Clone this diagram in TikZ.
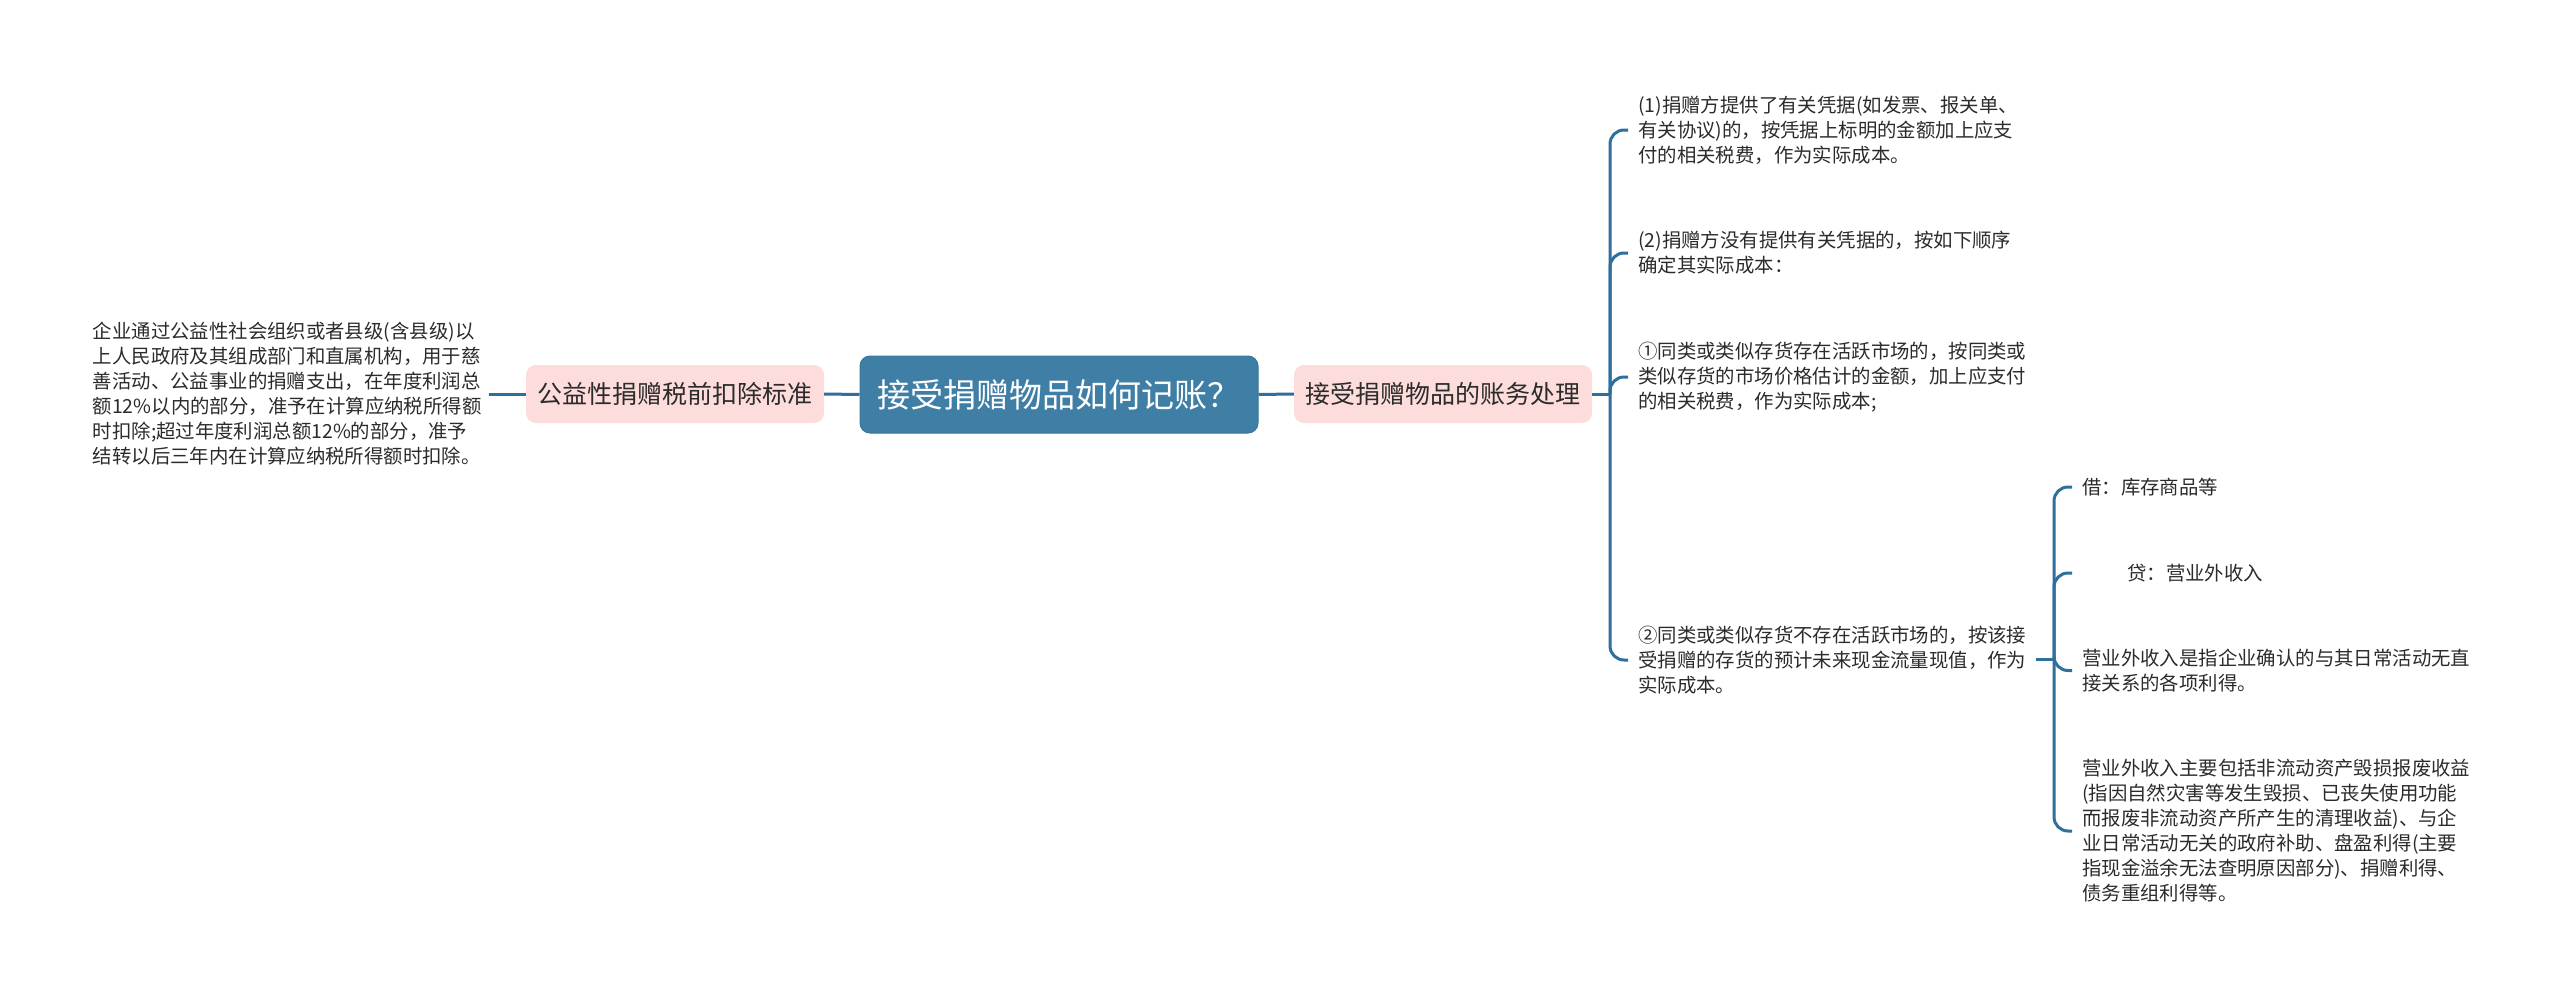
\documentclass[tikz,border=0pt]{standalone}
\usepackage{fontspec}
\setmainfont{Noto Sans CJK SC}
\definecolor{linkblue}{HTML}{2F6F9C}
\definecolor{rootblue}{HTML}{3F7FA6}
\definecolor{rootedge}{HTML}{3A7699}
\definecolor{subpink}{HTML}{FDDCDC}
\definecolor{inkgray}{HTML}{2B2B2B}
\tikzset{
  rootbox/.style={rounded corners=10pt,fill=rootblue,draw=rootedge,line width=1pt,text=white,
    minimum width=398pt,minimum height=77pt,inner sep=0pt,font=\fontsize{33}{38}\selectfont},
  subbox/.style={rounded corners=10pt,fill=subpink,text=inkgray,
    minimum width=298pt,minimum height=58pt,inner sep=0pt,font=\fontsize{25}{30}\selectfont},
  leaf/.style={align=left,inner sep=10pt,text=inkgray,font=\fontsize{19.4}{25}\selectfont},
  link/.style={draw=linkblue,line width=3pt},
  branch/.style={link,rounded corners=14pt}
}
\begin{document}
\begin{tikzpicture}[x=1pt,y=-1pt]
  \useasboundingbox (0,0) rectangle (2560,998);
  \node[rootbox] (root) at (1059,394.5) {接受捐赠物品如何记账？};
  \node[subbox] (tax) at (675,394) {公益性捐赠税前扣除标准};
  \node[subbox] (acct) at (1443,394) {接受捐赠物品的账务处理};
  \node[leaf,anchor=east,text width=386pt] (taxnote) at (489,394) {企业通过公益性社会组织或者县级(含县级)以\\
    上人民政府及其组成部门和直属机构，用于慈\\
    善活动、公益事业的捐赠支出，在年度利润总\\
    额12\%以内的部分，准予在计算应纳税所得额\\
    时扣除;超过年度利润总额12\%的部分，准予\\
    结转以后三年内在计算应纳税所得额时扣除。};
  \node[leaf,anchor=west] (itema) at (1628,130) {(1)捐赠方提供了有关凭据(如发票、报关单、\\
    有关协议)的，按凭据上标明的金额加上应支\\
    付的相关税费，作为实际成本。};
  \node[leaf,anchor=west] (itemb) at (1628,253) {(2)捐赠方没有提供有关凭据的，按如下顺序\\
    确定其实际成本：};
  \node[leaf,anchor=west] (itemc) at (1628,377) {①同类或类似存货存在活跃市场的，按同类或\\
    类似存货的市场价格估计的金额，加上应支付\\
    的相关税费，作为实际成本;};
  \node[leaf,anchor=west] (itemd) at (1628,660) {②同类或类似存货不存在活跃市场的，按该接\\
    受捐赠的存货的预计未来现金流量现值，作为\\
    实际成本。};
  \node[leaf,anchor=west] (debit) at (2072,487) {借：库存商品等};
  \node[leaf,anchor=west] (credit) at (2072,573) {\hspace{45pt}贷：营业外收入};
  \node[leaf,anchor=west] (incdef) at (2072,670.5) {营业外收入是指企业确认的与其日常活动无直\\
    接关系的各项利得。};
  \node[leaf,anchor=west] (incscope) at (2072,831) {营业外收入主要包括非流动资产毁损报废收益\\
    (指因自然灾害等发生毁损、已丧失使用功能\\
    而报废非流动资产所产生的清理收益)、与企\\
    业日常活动无关的政府补助、盘盈利得(主要\\
    指现金溢余无法查明原因部分)、捐赠利得、\\
    债务重组利得等。};
  \coordinate (acctfork) at (1610,394);
  \coordinate (itemfork) at (2054,659.5);
  \coordinate (itemstub) at (2036,659.5);
  \draw[link] (taxnote.east) -- (tax.west);
  \draw[link] (tax.east) -- (root.west);
  \draw[link] (root.east) -- (acct.west);
  \draw[link] (acct.east) -- (acctfork);
  \draw[link] (itemstub) -- (itemfork);
  \foreach \leafname in {itema,itemb,itemc,itemd}
    \draw[branch] (acctfork) |- (\leafname.west);
  \foreach \leafname in {debit,credit,incdef,incscope}
    \draw[branch] (itemfork) |- (\leafname.west);
\end{tikzpicture}
\end{document}
